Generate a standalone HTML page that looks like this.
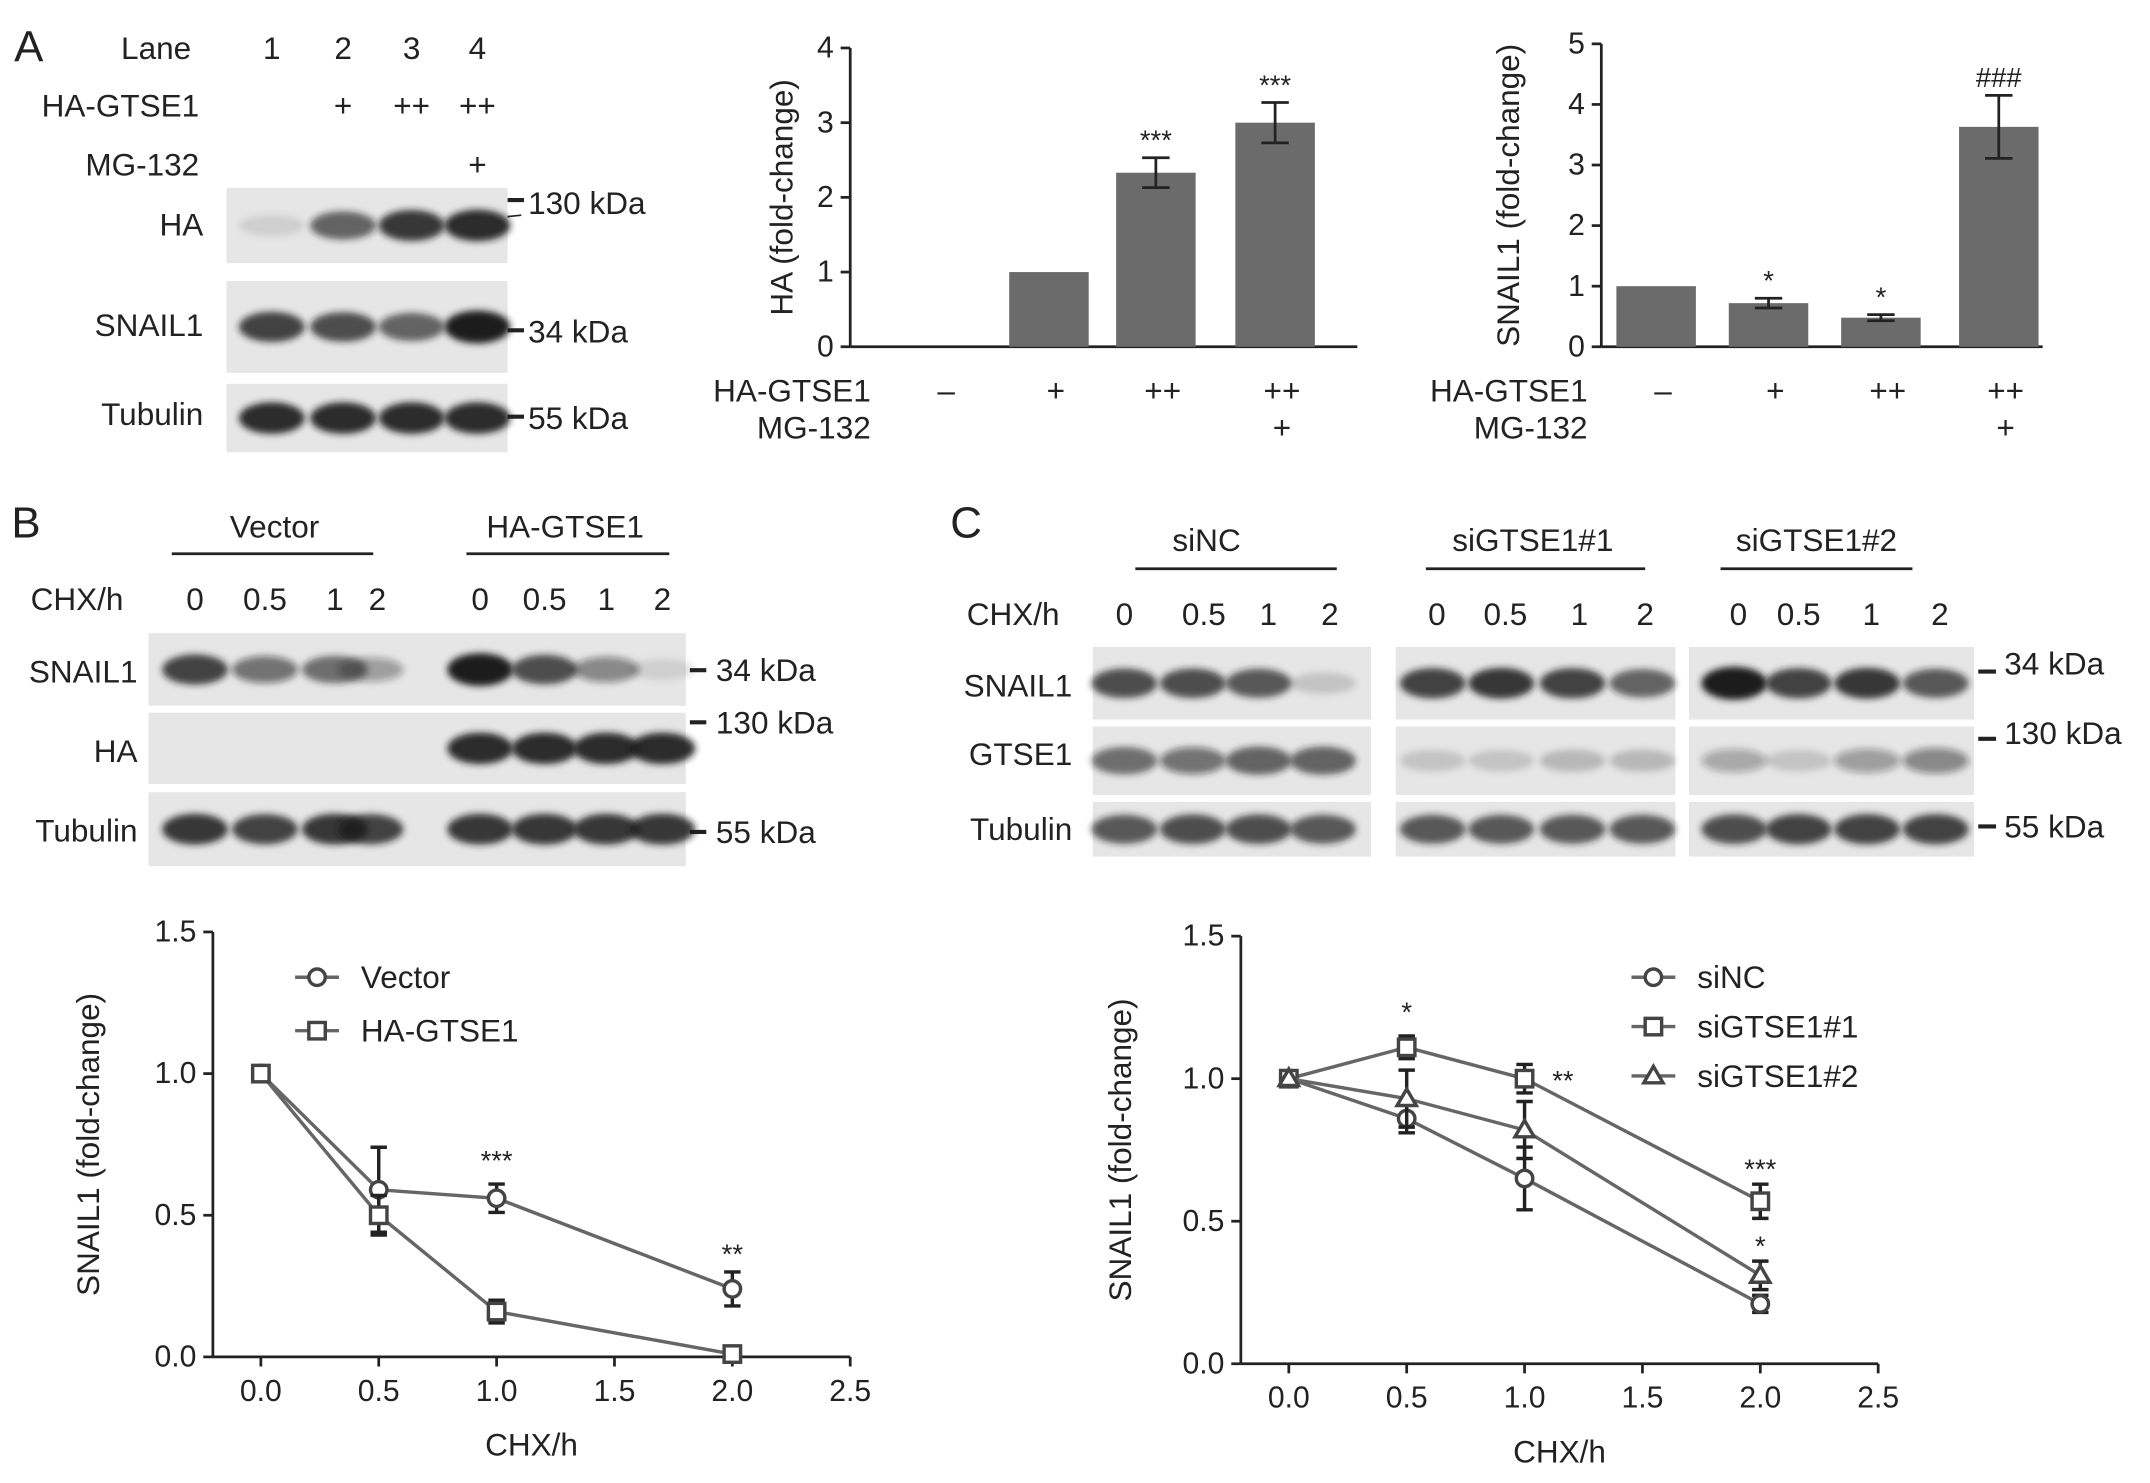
<!DOCTYPE html>
<html><head><meta charset="utf-8">
<style>
html,body{margin:0;padding:0;background:#fff;}
svg{display:block;font-family:"Liberation Sans",Arial,sans-serif;}
text{fill:#222;}
</style></head>
<body>
<svg id="fig" width="2150" height="1483" viewBox="0 0 1568 1082" xmlns="http://www.w3.org/2000/svg">
<defs>
<filter id="blur" x="-20%" y="-50%" width="140%" height="200%"><feGaussianBlur stdDeviation="2.5"/></filter>
</defs>
<g id="static" font-size="23">
<!-- Panel A blot -->
<text x="10" y="45" font-size="32">A</text>
<text x="88" y="43">Lane</text>
<text x="198" y="43" text-anchor="middle">1</text><text x="250" y="43" text-anchor="middle">2</text><text x="300" y="43" text-anchor="middle">3</text><text x="348" y="43" text-anchor="middle">4</text>
<text x="145" y="85" text-anchor="end">HA-GTSE1</text>
<text x="250" y="85" text-anchor="middle">+</text><text x="300" y="85" text-anchor="middle">++</text><text x="348" y="85" text-anchor="middle">++</text>
<text x="145" y="128" text-anchor="end">MG-132</text>
<text x="348" y="128" text-anchor="middle">+</text>
<text x="148" y="172" text-anchor="end">HA</text>
<text x="148" y="245" text-anchor="end">SNAIL1</text>
<text x="148" y="310" text-anchor="end">Tubulin</text>
<text x="385" y="156">130 kDa</text><line x1="370" y1="146" x2="382" y2="146" stroke="#222" stroke-width="3"/>
<line x1="352" y1="160" x2="380" y2="157" stroke="#222" stroke-width="1.2"/>
<text x="385" y="250">34 kDa</text><line x1="370" y1="241" x2="382" y2="241" stroke="#222" stroke-width="3"/>
<text x="385" y="313">55 kDa</text><line x1="370" y1="304" x2="382" y2="304" stroke="#222" stroke-width="3"/>

<!-- Panel B blot -->
<text x="8" y="392" font-size="32">B</text>
<text x="200" y="392" text-anchor="middle">Vector</text><line x1="125" y1="404" x2="272" y2="404" stroke="#222" stroke-width="2"/>
<text x="412" y="392" text-anchor="middle">HA-GTSE1</text><line x1="340" y1="404" x2="488" y2="404" stroke="#222" stroke-width="2"/>
<text x="22" y="445">CHX/h</text>
<text x="142" y="445" text-anchor="middle">0</text><text x="193" y="445" text-anchor="middle">0.5</text><text x="244" y="445" text-anchor="middle">1</text><text x="275" y="445" text-anchor="middle">2</text>
<text x="350" y="445" text-anchor="middle">0</text><text x="397" y="445" text-anchor="middle">0.5</text><text x="442" y="445" text-anchor="middle">1</text><text x="483" y="445" text-anchor="middle">2</text>
<text x="100" y="498" text-anchor="end">SNAIL1</text>
<text x="100" y="556" text-anchor="end">HA</text>
<text x="100" y="614" text-anchor="end">Tubulin</text>
<line x1="503" y1="489" x2="515" y2="489" stroke="#222" stroke-width="3"/><text x="522" y="497">34 kDa</text>
<line x1="503" y1="527" x2="515" y2="527" stroke="#222" stroke-width="3"/><text x="522" y="535">130 kDa</text>
<line x1="503" y1="607" x2="515" y2="607" stroke="#222" stroke-width="3"/><text x="522" y="615">55 kDa</text>

<!-- Panel C blot -->
<text x="693" y="392" font-size="32">C</text>
<text x="880" y="402" text-anchor="middle">siNC</text><line x1="828" y1="415" x2="975" y2="415" stroke="#222" stroke-width="2"/>
<text x="1118" y="402" text-anchor="middle">siGTSE1#1</text><line x1="1040" y1="415" x2="1200" y2="415" stroke="#222" stroke-width="2"/>
<text x="1325" y="402" text-anchor="middle">siGTSE1#2</text><line x1="1255" y1="415" x2="1395" y2="415" stroke="#222" stroke-width="2"/>
<text x="705" y="456">CHX/h</text>
<text x="820" y="456" text-anchor="middle">0</text><text x="878" y="456" text-anchor="middle">0.5</text><text x="925" y="456" text-anchor="middle">1</text><text x="970" y="456" text-anchor="middle">2</text>
<text x="1048" y="456" text-anchor="middle">0</text><text x="1098" y="456" text-anchor="middle">0.5</text><text x="1152" y="456" text-anchor="middle">1</text><text x="1200" y="456" text-anchor="middle">2</text>
<text x="1268" y="456" text-anchor="middle">0</text><text x="1312" y="456" text-anchor="middle">0.5</text><text x="1365" y="456" text-anchor="middle">1</text><text x="1415" y="456" text-anchor="middle">2</text>
<text x="782" y="508" text-anchor="end">SNAIL1</text>
<text x="782" y="558" text-anchor="end">GTSE1</text>
<text x="782" y="613" text-anchor="end">Tubulin</text>
<line x1="1443" y1="490" x2="1456" y2="490" stroke="#222" stroke-width="3"/><text x="1462" y="492">34 kDa</text>
<line x1="1443" y1="539" x2="1456" y2="539" stroke="#222" stroke-width="3"/><text x="1462" y="543">130 kDa</text>
<line x1="1443" y1="603" x2="1456" y2="603" stroke="#222" stroke-width="3"/><text x="1462" y="611">55 kDa</text>
</g>
<g id="blots"></g>
<g id="charts"></g>
</svg>
<script>
// ---- data ----
const barHA = [0, 1, 2.33, 3.0];
const barHAerr = [0, 0, 0.2, 0.27];
const barHAsig = ["", "", "***", "***"];
const barSN = [1.0, 0.72, 0.48, 3.63];
const barSNerr = [0, 0.08, 0.05, 0.52];
const barSNsig = ["", "*", "*", "###"];
const barGtseLabels = ["\u2013", "+", "++", "++"];
const barMgLabels = ["", "", "", "+"];
const haTicks = [0, 1, 2, 3, 4];
const snTicks = [0, 1, 2, 3, 4, 5];

const timeX = [0, 0.5, 1.0, 2.0];
const xTicks = [0.0, 0.5, 1.0, 1.5, 2.0, 2.5];
const yTicks = [0.0, 0.5, 1.0, 1.5];
const bVector = [1, 0.59, 0.56, 0.24];
const bVectorErr = [0, 0.15, 0.05, 0.06];
const bHA = [1, 0.5, 0.16, 0.01];
const bHAErr = [0, 0.07, 0.04, 0.01];
const cNC = [1, 0.86, 0.65, 0.21];
const cNCErr = [0, 0.05, 0.11, 0.03];
const c1 = [1, 1.11, 1.0, 0.57];
const c1Err = [0, 0.04, 0.05, 0.06];
const c2 = [1, 0.93, 0.82, 0.31];
const c2Err = [0, 0.1, 0.1, 0.05];

const blotA = {HA:[0.1,0.65,0.85,0.9], SNAIL1:[0.8,0.75,0.65,1.0], Tubulin:[0.9,0.9,0.9,0.9]};
const blotB = {SNAIL1:[0.8,0.55,0.6,0.35,1.0,0.75,0.45,0.1], HA:[0,0,0,0,0.9,0.9,0.9,0.9], Tubulin:[0.85,0.8,0.85,0.8,0.85,0.85,0.85,0.85]};
const blotC = {SNAIL1:[0.75,0.75,0.7,0.15, 0.8,0.85,0.8,0.65, 1.0,0.8,0.85,0.7], GTSE1:[0.6,0.55,0.65,0.65, 0.15,0.15,0.2,0.2, 0.3,0.15,0.35,0.45], Tubulin:[0.7,0.75,0.75,0.7, 0.7,0.7,0.7,0.7, 0.75,0.8,0.8,0.8]};

const NS="http://www.w3.org/2000/svg";
function el(tag, attrs, parent, txt){const e=document.createElementNS(NS,tag);for(const k in attrs)e.setAttribute(k,attrs[k]);if(txt!==undefined)e.textContent=txt;parent.appendChild(e);return e;}
const blots=document.getElementById('blots');
const charts=document.getElementById('charts');

function blotRow(name, x0, x1, y0, y1, lanesX, vals){
  const g=el('g',{},blots);
  
  
  el('rect',{x:x0,y:y0,width:x1-x0,height:y1-y0,fill:'#e6e6e6'},g);
  const cy=(y0+y1)/2;
  vals.forEach((v,i)=>{ if(v<=0.02) return;
    const b=el('ellipse',{cx:lanesX[i],cy:cy,rx:24,ry:Math.min(12,(y1-y0)/2-4)*(0.6+0.4*v),fill:'#1a1a1a','fill-opacity':v,filter:'url(#blur)'},g);
    
    
  });
}
const aX=[198,250,300,348];
blotRow('a-ha',165,370,137,192,aX,blotA.HA);
blotRow('a-snail1',165,370,205,272,aX,blotA.SNAIL1);
blotRow('a-tubulin',165,370,280,330,aX,blotA.Tubulin);
const bX=[142,193,244,270,350,397,442,483];
blotRow('b-snail1',108,500,462,515,bX,blotB.SNAIL1);
blotRow('b-ha',108,500,520,572,bX,blotB.HA);
blotRow('b-tubulin',108,500,578,632,bX,blotB.Tubulin);
const cGroups=[[797,1000,[820,870,918,965]],[1018,1222,[1045,1095,1147,1198]],[1232,1440,[1265,1312,1362,1412]]];
['SNAIL1','GTSE1','Tubulin'].forEach((r,ri)=>{
  const ys=[[472,525],[530,580],[585,625]][ri];
  cGroups.forEach((gp,gi)=>blotRow('c-'+r.toLowerCase()+'-'+(gi+1),gp[0],gp[1],ys[0],ys[1],gp[2],blotC[r].slice(gi*4,gi*4+4)));
});

// ---- bar charts ----
function barChart(id, axX, axRight, y0, yTop, maxV, ticks, centers, vals, errs, sigs, ytitle, ytx, labelRight){
  const g=el('g',{'font-size':20},charts);
  
  
  const sy=v=>y0-(y0-yTop)*v/maxV;
  el('line',{x1:axX,y1:sy(maxV),x2:axX,y2:y0,stroke:'#222','stroke-width':2},g);
  el('line',{x1:axX,y1:y0,x2:axRight,y2:y0,stroke:'#222','stroke-width':2},g);
  ticks.forEach(t=>{el('line',{x1:axX-7,y1:sy(t),x2:axX,y2:sy(t),stroke:'#222','stroke-width':2},g);
    const tl=el('text',{x:axX-12,y:sy(t)+7,'text-anchor':'end','font-size':22},g,String(t));
    
    });
  vals.forEach((v,i)=>{
    if(v>0){const r=el('rect',{x:centers[i]-29,y:sy(v),width:58,height:y0-sy(v),fill:'#6b6b6b'},g);
      
      }
    if(errs[i]>0){const a=sy(v+errs[i]),b=sy(v-errs[i]);
      el('line',{x1:centers[i],y1:a,x2:centers[i],y2:b,stroke:'#222','stroke-width':2},g);
      el('line',{x1:centers[i]-10,y1:a,x2:centers[i]+10,y2:a,stroke:'#222','stroke-width':2},g);
      el('line',{x1:centers[i]-10,y1:b,x2:centers[i]+10,y2:b,stroke:'#222','stroke-width':2},g);}
    if(sigs[i]){const s=el('text',{x:centers[i],y:sy(v+errs[i])-6,'text-anchor':'middle','font-size':20},g,sigs[i]);
      
      }
  });
  const yt=el('text',{x:ytx,y:(y0+yTop)/2,'text-anchor':'middle','font-size':23,transform:`rotate(-90 ${ytx} ${(y0+yTop)/2})`},g,ytitle);
  
  
  el('text',{x:labelRight,y:293,'text-anchor':'end','font-size':23},g,'HA-GTSE1');
  el('text',{x:labelRight,y:320,'text-anchor':'end','font-size':23},g,'MG-132');
  centers.forEach((c,i)=>{el('text',{x:c+5,y:293,'text-anchor':'middle','font-size':23},g,barGtseLabels[i]);
    if(barMgLabels[i]) el('text',{x:c+5,y:320,'text-anchor':'middle','font-size':23},g,barMgLabels[i]);});
}
barChart('ha-bar-chart',620,990,253,35,4,haTicks,[685,765,843,930],barHA,barHAerr,barHAsig,'HA (fold-change)',578,635);
barChart('snail1-bar-chart',1168,1490,253,32,5,snTicks,[1208,1290,1372,1458],barSN,barSNerr,barSNsig,'SNAIL1  (fold-change)',1108,1158);

// ---- line charts ----
function marker(g,type,x,y){
  if(type==='c') return el('circle',{cx:x,cy:y,r:6,fill:'#fff',stroke:'#444','stroke-width':2.5},g);
  if(type==='s') return el('rect',{x:x-6,y:y-6,width:12,height:12,fill:'#fff',stroke:'#444','stroke-width':2.5},g);
  return el('polygon',{points:`${x},${y-7} ${x+7},${y+5} ${x-7},${y+5}`,fill:'#fff',stroke:'#444','stroke-width':2.5},g);
}
function lineChart(id, axX, x0px, xPer, y0, yPer, series, legend, legX, legY, stars, ytx){
  const g=el('g',{},charts);
  
  
  const sx=v=>x0px+xPer*v, sy=v=>y0-yPer*v;
  el('line',{x1:axX,y1:sy(1.5),x2:axX,y2:y0,stroke:'#222','stroke-width':2},g);
  el('line',{x1:axX,y1:y0,x2:sx(2.5),y2:y0,stroke:'#222','stroke-width':2},g);
  yTicks.forEach(t=>{el('line',{x1:axX-7,y1:sy(t),x2:axX,y2:sy(t),stroke:'#222','stroke-width':2},g);
    el('text',{x:axX-12,y:sy(t)+7,'text-anchor':'end','font-size':22},g,t.toFixed(1));});
  xTicks.forEach(t=>{el('line',{x1:sx(t),y1:y0,x2:sx(t),y2:y0+7,stroke:'#222','stroke-width':2},g);
    el('text',{x:sx(t),y:y0+32,'text-anchor':'middle','font-size':22},g,t.toFixed(1));});
  const xt=el('text',{x:(axX+sx(2.5))/2,y:y0+72,'text-anchor':'middle','font-size':23},g,'CHX/h');
  
  
  const yc=sy(0.75);
  const yt=el('text',{x:ytx,y:yc,'text-anchor':'middle','font-size':23,transform:`rotate(-90 ${ytx} ${yc})`},g,'SNAIL1  (fold-change)');
  
  
  series.forEach(s=>{
    const pts=timeX.map((t,i)=>sx(t)+','+sy(s.v[i])).join(' ');
    const pl=el('polyline',{points:pts,fill:'none',stroke:'#666','stroke-width':2.5},g);
    
    
    timeX.forEach((t,i)=>{const x=sx(t);
      if(s.e[i]>0){const a=sy(s.v[i]+s.e[i]),b=sy(s.v[i]-s.e[i]);
        el('line',{x1:x,y1:a,x2:x,y2:b,stroke:'#222','stroke-width':2.5},g);
        el('line',{x1:x-6,y1:a,x2:x+6,y2:a,stroke:'#222','stroke-width':2.5},g);
        el('line',{x1:x-6,y1:b,x2:x+6,y2:b,stroke:'#222','stroke-width':2.5},g);}
      const m=marker(g,s.m,x,sy(s.v[i]));
      
      
    });
  });
  series.forEach((s,i)=>{const y=legY+i*legend;
    const lg=el('g',{},g);
    
    
    el('line',{x1:legX,y1:y,x2:legX+32,y2:y,stroke:'#666','stroke-width':2.5},lg);
    marker(lg,s.m,legX+16,y);
    el('text',{x:legX+48,y:y+8,'font-size':23},lg,s.label);});
  stars.forEach(st=>{const t=el('text',{x:sx(st[0])+(st[2]||0),y:sy(st[1]),'text-anchor':'middle','font-size':20},g,st[3]);
    
    });
}
lineChart('line-chart-b',155,190,172,990,206.7,
  [{name:'vector',label:'Vector',v:bVector,e:bVectorErr,m:'c'},{name:'ha-gtse1',label:'HA-GTSE1',v:bHA,e:bHAErr,m:'s'}],
  39,215,713,[[1.0,0.66,0,'***'],[2.0,0.33,0,'**']],72);
lineChart('line-chart-c',905,940,172,995,208,
  [{name:'sinc',label:'siNC',v:cNC,e:cNCErr,m:'c'},{name:'sigtse1-1',label:'siGTSE1#1',v:c1,e:c1Err,m:'s'},{name:'sigtse1-2',label:'siGTSE1#2',v:c2,e:c2Err,m:'t'}],
  36,1190,713,[[0.5,1.2,0,'*'],[1.0,0.96,28,'**'],[2.0,0.65,0,'***'],[2.0,0.38,0,'*']],825);
</script>
</body></html>
